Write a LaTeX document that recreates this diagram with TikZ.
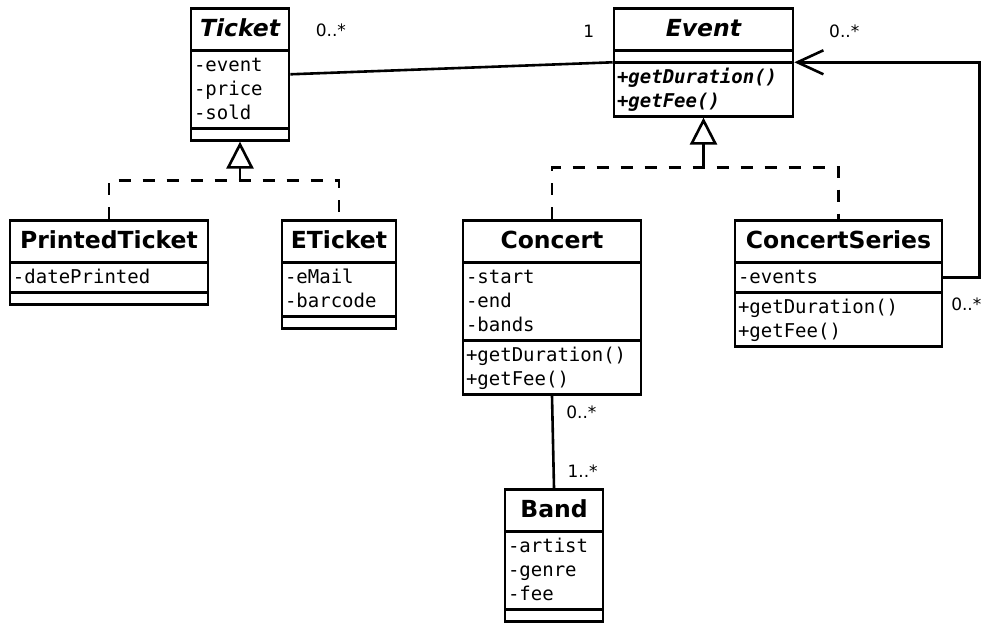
\documentclass[tikz,border=0pt]{standalone}
\usepackage{fontspec}
\setmainfont{DejaVu Sans}
\setmonofont{DejaVu Sans Mono}
\usetikzlibrary{shapes.multipart,arrows.meta,calc}

\newcommand{\cname}[1]{\makebox[\hsize]{\rule[-11bp]{0pt}{36bp}{\fontfamily{\rmdefault}\fontsize{23.5bp}{28bp}\selectfont\bfseries #1}}}
\newcommand{\mem}[1]{\rule[-5.5bp]{0pt}{24bp}#1}
\newcommand{\nomem}{\rule{0pt}{6bp}}

\tikzstyle{umlclass}=[rectangle split,rectangle split parts=3,draw,line width=2.6bp,inner xsep=3bp,inner ysep=1.7bp,anchor=north,font=\ttfamily\fontsize{19bp}{24bp}\selectfont]
\tikzstyle{assoc}=[line width=2.6bp]
\tikzstyle{realize}=[line width=2.6bp,dash pattern=on 12bp off 12bp]
\tikzstyle{inherit}=[line width=2.6bp,-{Triangle[open,length=27bp,width=27bp]}]
\tikzstyle{mult}=[inner sep=0pt,font=\fontsize{17bp}{19bp}\selectfont]

\begin{document}
\begin{tikzpicture}[x=1bp,y=-1bp]
	\useasboundingbox (0,0) rectangle (984,624);

	\node[umlclass,text width=92bp] (ticket) at (240,7) {\cname{\itshape Ticket}
		\nodepart{two}\mem{-event}\\\mem{-price}\\\mem{-sold}
		\nodepart{three}\nomem};
	\node[umlclass,text width=173bp] (event) at (703.5,7) {\cname{\itshape Event}
		\nodepart{two}\nomem
		\nodepart{three}\bfseries\itshape\mem{+getDuration()}\\\mem{+getFee()}};

	\node[umlclass,text width=192bp] (pticket) at (109,219) {\cname{PrintedTicket}
		\nodepart{two}\mem{-datePrinted}
		\nodepart{three}\nomem};
	\node[umlclass,text width=108bp] (eticket) at (339,219) {\cname{ETicket}
		\nodepart{two}\mem{-eMail}\\\mem{-barcode}
		\nodepart{three}\nomem};

	\node[umlclass,text width=172bp] (concert) at (552,219) {\cname{Concert}
		\nodepart{two}\mem{-start}\\\mem{-end}\\\mem{-bands}
		\nodepart{three}\mem{+getDuration()}\\\mem{+getFee()}};
	\node[umlclass,text width=201bp] (cseries) at (838.5,219) {\cname{ConcertSeries}
		\nodepart{two}\mem{-events}
		\nodepart{three}\mem{+getDuration()}\\\mem{+getFee()}};

	\node[umlclass,text width=92bp] (band) at (554,488) {\cname{Band}
		\nodepart{two}\mem{-artist}\\\mem{-genre}\\\mem{-fee}
		\nodepart{three}\nomem};

	\draw[assoc] (ticket.east)--(event.west)
		node [mult,pos=0.126,yshift=42bp] (tmult) {0..*}
		node [mult,pos=0.926,yshift=32bp] (emult) {1};

	\coordinate (tj) at ([yshift=-39bp]ticket.south);
	\draw[realize] (pticket.north) |- (tj) -| (eticket.north);
	\draw[inherit] (tj)--(ticket.south);

	\coordinate (ej) at ([yshift=-50bp]event.south);
	\draw[realize] (concert.north) |- (ej) -| (cseries.north);
	\draw[inherit] (ej)--(event.south);

	\coordinate (csev) at ($(cseries.text split east)!0.5!(cseries.two split east)$);
	\draw[assoc,-{Straight Barb[length=26bp,width=24bp]}] (csev)--++(36,0) |- (event.two split east);
	\node[mult] (smult) at ([xshift=23bp,yshift=-27bp]csev) {0..*};
	\node[mult] (rmult) at ([xshift=50bp,yshift=31bp]event.two split east) {0..*};

	\draw[assoc] (concert.south)--(band.north)
		node [mult,pos=0.18,xshift=29bp] (cmult) {0..*}
		node [mult,pos=0.82,xshift=29bp] (bmult) {1..*};
\end{tikzpicture}
\end{document}
